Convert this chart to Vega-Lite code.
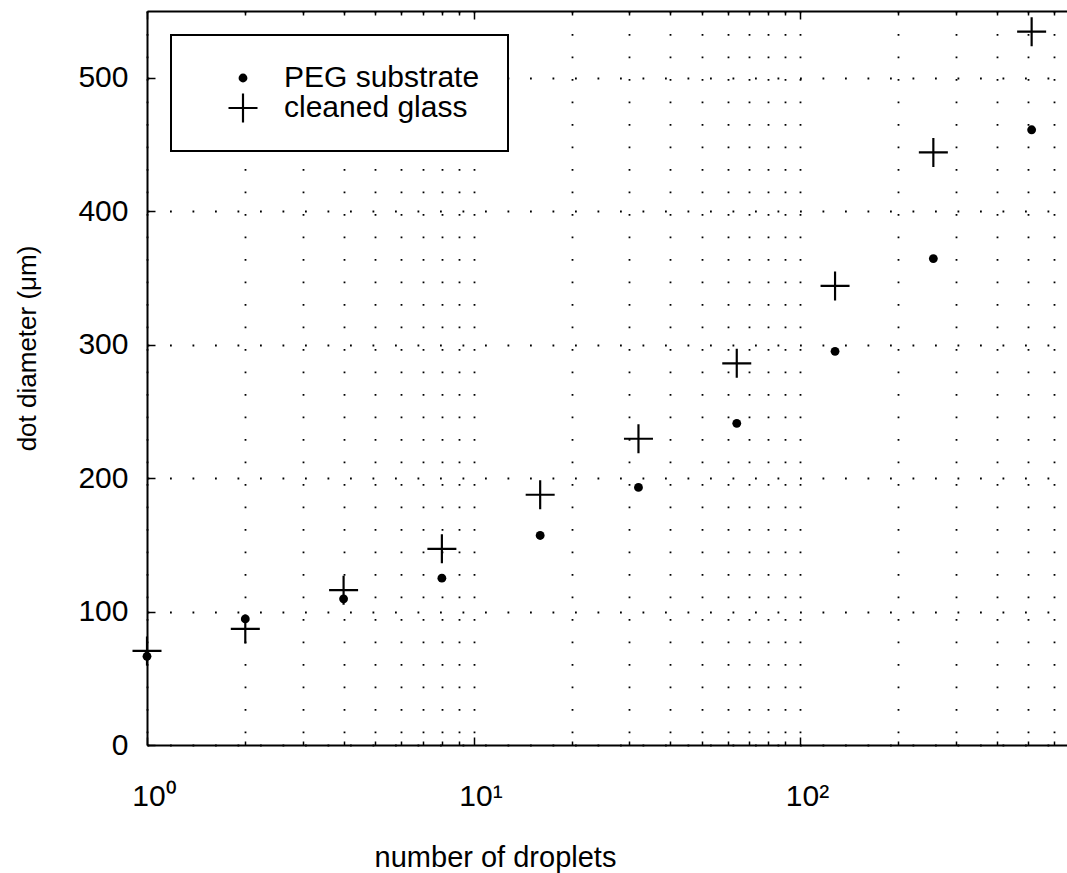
{
  "$schema": "https://vega.github.io/schema/vega-lite/v6.json",
  "width": 920,
  "height": 734,
  "autosize": {"type": "none"},
  "padding": {"left": 147, "top": 11, "right": 0, "bottom": 128},
  "background": "white",
  "config": {
    "view": {"stroke": null},
    "font": "Liberation Sans",
    "axis": {
      "domainColor": "black",
      "domainWidth": 2,
      "tickColor": "black",
      "tickWidth": 1.5,
      "labelColor": "black",
      "labelFont": "Liberation Sans",
      "labelFontSize": 30,
      "titleFont": "Liberation Sans",
      "titleFontSize": 27,
      "titleFontWeight": "normal",
      "titleColor": "black",
      "gridColor": "black",
      "gridOpacity": 1,
      "gridDash": [1.8, 20.7],
      "gridWidth": 1.8
    },
    "legend": {
      "strokeColor": "black",
      "strokeWidth": 2,
      "fillColor": "white",
      "padding": 28,
      "rowPadding": 0,
      "labelFont": "Liberation Sans",
      "labelFontSize": 30,
      "labelColor": "black",
      "labelLimit": 400,
      "symbolFillColor": "black",
      "symbolStrokeWidth": 0
    }
  },
  "data": {
    "values": [
      {"n": 1, "d": 66.5, "s": "PEG substrate"},
      {"n": 2, "d": 94.5, "s": "PEG substrate"},
      {"n": 4, "d": 109.5, "s": "PEG substrate"},
      {"n": 8, "d": 125, "s": "PEG substrate"},
      {"n": 16, "d": 157, "s": "PEG substrate"},
      {"n": 32, "d": 193, "s": "PEG substrate"},
      {"n": 64, "d": 241, "s": "PEG substrate"},
      {"n": 128, "d": 295, "s": "PEG substrate"},
      {"n": 256, "d": 364.5, "s": "PEG substrate"},
      {"n": 512, "d": 461, "s": "PEG substrate"},
      {"n": 1, "d": 70.5, "s": "cleaned glass"},
      {"n": 2, "d": 87, "s": "cleaned glass"},
      {"n": 4, "d": 116, "s": "cleaned glass"},
      {"n": 8, "d": 147, "s": "cleaned glass"},
      {"n": 16, "d": 187.5, "s": "cleaned glass"},
      {"n": 32, "d": 229.5, "s": "cleaned glass"},
      {"n": 64, "d": 286, "s": "cleaned glass"},
      {"n": 128, "d": 344, "s": "cleaned glass"},
      {"n": 256, "d": 444, "s": "cleaned glass"},
      {"n": 512, "d": 534.5, "s": "cleaned glass"}
    ]
  },
  "layer": [
    {
      "mark": {"type": "point", "filled": true, "fill": "black", "strokeWidth": 0, "opacity": 1},
      "encoding": {
        "x": {
          "field": "n",
          "type": "quantitative",
          "scale": {"type": "log", "domain": [1, 657], "nice": false},
          "axis": {
            "orient": "bottom",
            "values": [1, 2, 3, 4, 5, 6, 7, 8, 9, 10, 20, 30, 40, 50, 60, 70, 80, 90, 100, 200, 300, 400, 500, 600],
            "grid": true,
            "labelExpr": "datum.value == 1 ? '10⁰' : datum.value == 10 ? '10¹' : datum.value == 100 ? '10²' : ''",
            "labelOverlap": false,
            "labelFlush": false,
            "labelPadding": 44,
            "labelOffset": 7,
            "tickSize": {"condition": {"test": "datum.value == 1 || datum.value == 10 || datum.value == 100", "value": -8}, "value": -4},
            "title": "number of droplets",
            "titleX": 348,
            "titleY": 121,
            "titleBaseline": "alphabetic",
            "titleAnchor": null,
            "titleAlign": "center",
            "titleFontSize": 29
          }
        },
        "y": {
          "field": "d",
          "type": "quantitative",
          "scale": {"domain": [0, 550], "nice": false, "zero": true},
          "axis": {
            "orient": "left",
            "values": [0, 100, 200, 300, 400, 500],
            "grid": true,
            "tickSize": -8,
            "labelPadding": 27,
            "title": "dot diameter (μm)",
            "titleX": -112,
            "titleY": 337,
            "titleAngle": -90,
            "titleBaseline": "alphabetic",
            "titleAlign": "center",
            "titleAnchor": null,
            "titleFontSize": 26
          }
        },
        "shape": {
          "field": "s",
          "type": "nominal",
          "scale": {"domain": ["PEG substrate", "cleaned glass"], "range": ["circle", "M-1,-0.075H-0.075V-1H0.075V-0.075H1V0.075H0.075V1H-0.075V0.075H-1Z"]},
          "legend": {
            "title": null, "orient": "none", "legendX": 24, "legendY": 24, "symbolOffset": 29, "labelOffset": 26,
            "encode": {"symbols": {"update": {
              "size": {"signal": "datum.value === 'PEG substrate' ? 28 : 324"},
              "fill": {"value": "black"},
              "strokeWidth": {"value": 0},
              "opacity": {"value": 1}
            }}}
          }
        },
        "size": {
          "field": "s",
          "type": "nominal",
          "scale": {"domain": ["PEG substrate", "cleaned glass"], "range": [78, 841]},
          "legend": {
            "title": null, "orient": "none", "legendX": 24, "legendY": 24, "symbolOffset": 29, "labelOffset": 26,
            "encode": {"symbols": {"update": {
              "size": {"signal": "datum.value === 'PEG substrate' ? 28 : 324"},
              "fill": {"value": "black"},
              "strokeWidth": {"value": 0},
              "opacity": {"value": 1}
            }}}
          }
        }
      }
    },
    {
      "mark": {"type": "point", "opacity": 0},
      "encoding": {
        "x": {
          "field": "n",
          "type": "quantitative",
          "scale": {"type": "log", "domain": [1, 657], "nice": false},
          "axis": {
            "orient": "top",
            "values": [1, 2, 3, 4, 5, 6, 7, 8, 9, 10, 20, 30, 40, 50, 60, 70, 80, 90, 100, 200, 300, 400, 500, 600],
            "grid": false,
            "labels": false,
            "tickSize": {"condition": {"test": "datum.value == 1 || datum.value == 10 || datum.value == 100", "value": -8}, "value": -4},
            "title": null
          }
        },
        "y": {
          "field": "d",
          "type": "quantitative",
          "scale": {"domain": [0, 550], "nice": false},
          "axis": null
        }
      }
    }
  ],
  "resolve": {"axis": {"x": "independent", "y": "independent"}}
}
